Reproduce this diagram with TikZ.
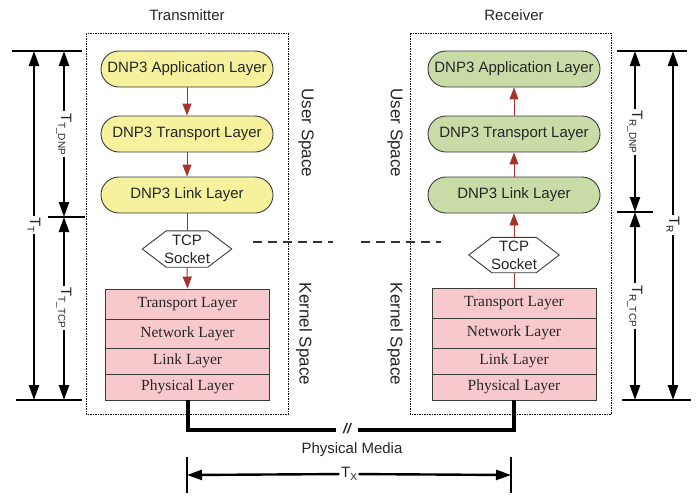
\documentclass[tikz,border=0pt]{standalone}
\usepackage{fontspec}
\setmainfont{Liberation Sans}
\newfontfamily\serifF{Liberation Serif}
\usetikzlibrary{arrows.meta}
\definecolor{yel}{HTML}{F6F19C}
\definecolor{grn}{HTML}{C9DCA8}
\definecolor{pnk}{HTML}{F8C9CC}
\definecolor{arr}{HTML}{A5352C}
\definecolor{txt}{HTML}{262626}
\definecolor{edge}{HTML}{3A3A3A}
\newcommand\subtxt[1]{\raisebox{-0.35ex}{\fontsize{10}{10}\selectfont #1}}
\begin{document}
\begin{tikzpicture}[x=1pt,y=-1pt,
 pill/.style={draw=edge,line width=0.9pt,rounded corners=18pt,minimum width=172pt,minimum height=36pt,inner sep=0pt,font=\fontsize{15}{17}\selectfont,text=txt},
 stackrow/.style={draw=edge,line width=0.9pt,fill=pnk,minimum width=164pt,inner sep=0pt,font=\serifF\fontsize{15.5}{17}\selectfont,text=txt},
 hexlbl/.style={minimum width=89pt,minimum height=36pt,inner sep=0pt,align=center,font=\fontsize{15}{18}\selectfont,text=txt},
 hexline/.style={draw=edge,line width=0.9pt,fill=white},
 flow/.style={draw=arr,line width=1pt,-{Triangle[length=12pt,width=9pt]}},
 flowplain/.style={draw=arr,line width=1pt},
 dim/.style={line width=2.4pt,-{Triangle[length=15pt,width=10pt]}},
 tickline/.style={line width=1.1pt},
 dimlab/.style={fill=white,rotate=-90,inner sep=1.5pt,font=\fontsize{15}{17}\selectfont,text=txt},
 spacelbl/.style={rotate=-90,font=\fontsize{17}{19}\selectfont,text=txt},
 title/.style={font=\fontsize{15}{17}\selectfont,text=txt},
 dotbox/.style={line width=0.6pt,dash pattern=on 1.5pt off 1pt},
 media/.style={line width=4pt,line join=miter},
 dashsep/.style={line width=1.4pt,dash pattern=on 9pt off 6pt,draw=black!80}
]
\useasboundingbox (0,0) rectangle (698,496);

% dotted enclosures
\draw[dotbox] (86,33) rectangle (288,414);
\draw[dotbox] (410,33) rectangle (611,414);

% titles
\node[title] (ttl) at (187,15) {Transmitter};
\node[title] (rtl) at (514,15) {Receiver};

% space labels
\node[spacelbl] (tus) at (306,133) {User Space};
\node[spacelbl] (tks) at (304,334) {Kernel Space};
\node[spacelbl] (rus) at (395,133) {User Space};
\node[spacelbl] (rks) at (395,334) {Kernel Space};

% transmitter DNP3 layers
\node[pill,fill=yel] (ta) at (187,69) {DNP3 Application Layer};
\node[pill,fill=yel] (tt) at (187,134) {DNP3 Transport Layer};
\node[pill,fill=yel] (tl) at (187,195) {DNP3 Link Layer};
% receiver DNP3 layers
\node[pill,fill=grn] (ra) at (514,69) {DNP3 Application Layer};
\node[pill,fill=grn] (rt) at (514,134) {DNP3 Transport Layer};
\node[pill,fill=grn] (rl) at (514,195) {DNP3 Link Layer};

% TCP sockets
\node[hexlbl] (ts) at (187,249) {};
\draw[hexline] (ts.west) -- ([xshift=24pt]ts.north west) -- ([xshift=-24pt]ts.north east) -- (ts.east) -- ([xshift=-24pt]ts.south east) -- ([xshift=24pt]ts.south west) -- cycle;
\node[hexlbl] at (ts) {TCP\\Socket};
\node[hexlbl,minimum width=90pt,minimum height=35pt] (rs) at (514,255) {};
\draw[hexline] (rs.west) -- ([xshift=23pt]rs.north west) -- ([xshift=-23pt]rs.north east) -- (rs.east) -- ([xshift=-23pt]rs.south east) -- ([xshift=23pt]rs.south west) -- cycle;
\node[hexlbl,minimum width=90pt,minimum height=35pt] at (rs) {TCP\\Socket};

% TCP/IP stacks
\node[stackrow,minimum height=30pt] (p1) at (187.5,304) {Transport Layer};
\node[stackrow,minimum height=29pt] (p2) at (187.5,333.5) {Network Layer};
\node[stackrow,minimum height=26pt] (p3) at (187.5,361) {Link Layer};
\node[stackrow,minimum height=26pt] (p4) at (187.5,387) {Physical Layer};
\node[stackrow,minimum height=30pt] (q1) at (514,303) {Transport Layer};
\node[stackrow,minimum height=30pt] (q2) at (514,333) {Network Layer};
\node[stackrow,minimum height=26pt] (q3) at (514,361) {Link Layer};
\node[stackrow,minimum height=26pt] (q4) at (514,387) {Physical Layer};

% flow arrows
\draw[flow] (ta.south) -- (tt.north);
\draw[flow] (tt.south) -- (tl.north);
\draw[flowplain] (tl.south) -- (ts.north);
\draw[flow] (ts.south) -- (p1.north);
\draw[flowplain] (q1.north) -- (rs.south);
\draw[flow] (rs.north) -- (rl.south);
\draw[flow] (rl.north) -- (rt.south);
\draw[flow] (rt.north) -- (ra.south);

% dashed separator
\draw[dashsep] (253,242) -- (333,242);
\draw[dashsep] (361,242) -- (441,242);

% physical media
\coordinate (mL) at (187.5,430);
\coordinate (mLe) at (336,430);
\coordinate (mRs) at (358,430);
\coordinate (mR) at (514,430);
\node[font=\fontsize{14}{14}\selectfont\bfseries\itshape,text=txt] (brk) at (347,429) {//};
\draw[media] (p4.south) -- (mL) -- (mLe);
\draw[media] (mRs) -- (mR) -- (q4.south);
\node[title] (pm) at (352,450) {Physical Media};

% T_X
\draw[tickline] (187,457) -- (187,493);
\draw[tickline] (511,457) -- (511,493);
\coordinate (txL) at (187,475);
\coordinate (txR) at (511,475);
\node[fill=white,inner sep=1.5pt,font=\fontsize{15}{17}\selectfont,text=txt] (tx) at (349,474) {T\subtxt{X}};
\draw[dim] (tx) -- (txL);
\draw[dim] (tx) -- (txR);

% left dimensions
\draw[tickline] (12,51) -- (82,51);
\draw[tickline] (48,217) -- (85,217);
\draw[tickline] (16,400) -- (82,400);
\coordinate (LTa) at (34,51);
\coordinate (LTb) at (34,400);
\coordinate (LDa) at (64,51);
\coordinate (LDb) at (64,217);
\coordinate (LCa) at (64,217);
\coordinate (LCb) at (64,400);
\node[dimlab] (lTT) at (34,225) {T\subtxt{T}};
\node[dimlab] (lTD) at (64,134) {T\subtxt{T\_DNP}};
\node[dimlab] (lTC) at (64,308) {T\subtxt{T\_TCP}};
\draw[dim] (lTT) -- (LTa);
\draw[dim] (lTT) -- (LTb);
\draw[dim] (lTD) -- (LDa);
\draw[dim] (lTD) -- (LDb);
\draw[dim] (lTC) -- (LCa);
\draw[dim] (lTC) -- (LCb);

% right dimensions
\draw[tickline] (617,51) -- (687,51);
\draw[tickline] (617,212) -- (653,212);
\draw[tickline] (622,400) -- (691,400);
\coordinate (RTa) at (673,51);
\coordinate (RTb) at (673,400);
\coordinate (RDa) at (635,51);
\coordinate (RDb) at (635,212);
\coordinate (RCa) at (635,212);
\coordinate (RCb) at (635,400);
\node[dimlab] (rTT) at (673,225) {T\subtxt{R}};
\node[dimlab] (rTD) at (635,132) {T\subtxt{R\_DNP}};
\node[dimlab] (rTC) at (635,306) {T\subtxt{R\_TCP}};
\draw[dim] (rTT) -- (RTa);
\draw[dim] (rTT) -- (RTb);
\draw[dim] (rTD) -- (RDa);
\draw[dim] (rTD) -- (RDb);
\draw[dim] (rTC) -- (RCa);
\draw[dim] (rTC) -- (RCb);
\end{tikzpicture}
\end{document}
